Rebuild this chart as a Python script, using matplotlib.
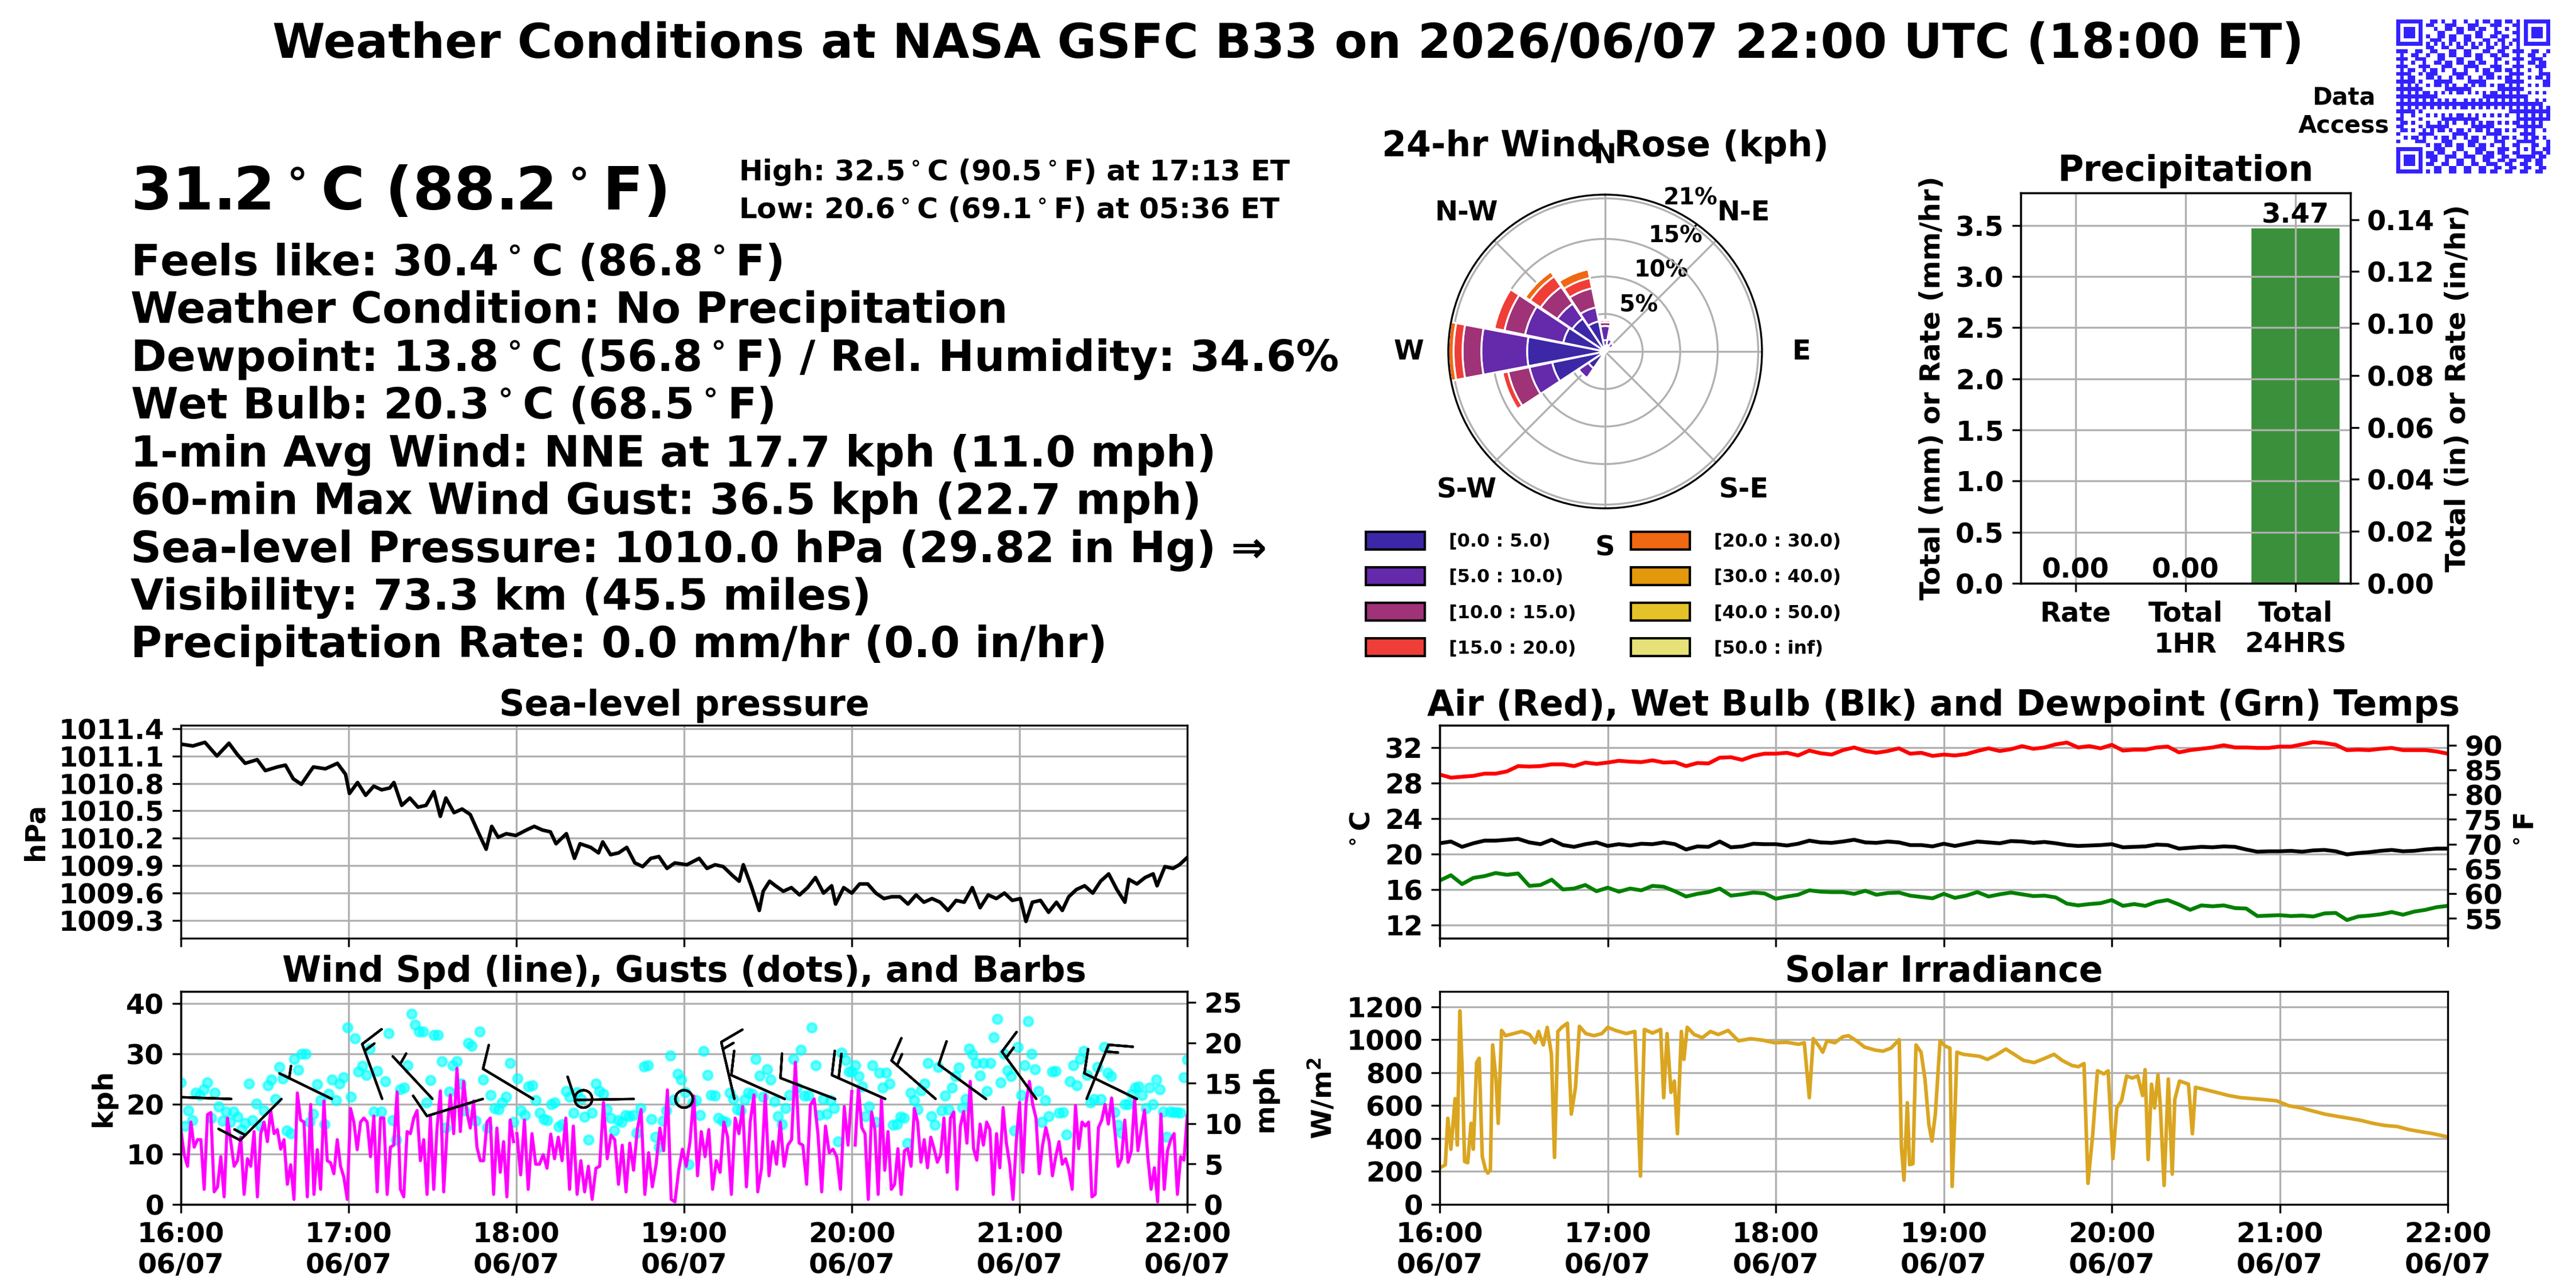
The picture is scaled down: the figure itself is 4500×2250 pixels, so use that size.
import numpy as np
import pandas as pd
import matplotlib
matplotlib.use("Agg")
import matplotlib.pyplot as plt
import matplotlib.dates as mdates
from matplotlib.colors import ListedColormap
from matplotlib.patches import Patch

plt.rcParams['font.family'] = ['DejaVu Sans']
plt.rcParams['font.weight'] = 'bold'
plt.rcParams['axes.titleweight'] = 'bold'
plt.rcParams['axes.labelweight'] = 'bold'
plt.rcParams['font.size'] = 11.5

# ---------------- data ----------------
start = pd.Timestamp("2026-06-07 16:00")
end = pd.Timestamp("2026-06-07 22:00")

title = "Weather Conditions at NASA GSFC B33 on 2026/06/07 22:00 UTC (18:00 ET)"
now_temp = "31.2$^\\circ$C (88.2$^\\circ$F)"
high_txt = "High: 32.5$^\\circ$C (90.5$^\\circ$F) at 17:13 ET"
low_txt = "Low: 20.6$^\\circ$C (69.1$^\\circ$F) at 05:36 ET"
info_lines = [
    "Feels like: 30.4$^\\circ$C (86.8$^\\circ$F)",
    "Weather Condition: No Precipitation",
    "Dewpoint: 13.8$^\\circ$C (56.8$^\\circ$F) / Rel. Humidity: 34.6%",
    "Wet Bulb: 20.3$^\\circ$C (68.5$^\\circ$F)",
    "1-min Avg Wind: NNE at 17.7 kph (11.0 mph)",
    "60-min Max Wind Gust: 36.5 kph (22.7 mph)",
    "Sea-level Pressure: 1010.0 hPa (29.82 in Hg) \u21d2",
    "Visibility: 73.3 km (45.5 miles)",
    "Precipitation Rate: 0.0 mm/hr (0.0 in/hr)",
]

# sea-level pressure, minutes after 16:00 and hPa
pres_min = [0, 4.3, 8.6, 12.9, 17.2, 20.1, 23.0, 27.3, 30.2, 34.5,
            37.4, 40.2, 43.1, 46.0, 47.4, 51.7, 56.0, 58.9, 60.3, 63.2,
            66.1, 69.0, 71.8, 74.7, 76.2, 79.0, 81.9, 84.8, 87.7, 90.5,
            92.8, 94.8, 97.7, 100.6, 103.5, 106.3, 109.2, 111.2, 113.5, 116.4,
            119.8, 123.6, 126.4, 129.3, 132.2, 134.2, 137.9, 140.8, 142.8, 146.6,
            149.4, 150.9, 153.7, 156.6, 159.5, 162.4, 165.2, 168.1, 171.0, 173.9,
            176.7, 181.0, 185.4, 188.2, 191.1, 194.0, 197.4, 199.7, 201.2, 204.0,
            206.9, 208.3, 210.6, 212.7, 215.5, 218.4, 221.3, 224.2, 227.0, 229.9,
            232.8, 234.2, 237.1, 240.0, 242.8, 245.7, 248.6, 251.5, 254.3, 257.2,
            260.1, 263.0, 265.8, 268.7, 271.6, 274.4, 277.3, 280.2, 283.1, 285.9,
            288.8, 291.7, 294.6, 297.4, 300.3, 302.3, 304.6, 307.5, 310.4, 313.2,
            315.3, 317.6, 320.4, 323.3, 326.2, 329.0, 331.9, 334.8, 337.7, 339.1,
            342.0, 344.9, 347.8, 349.2, 352.0, 354.9, 357.2, 360.0]
pres_hpa = [1011.23, 1011.21, 1011.25, 1011.10, 1011.24, 1011.12, 1011.02, 1011.06, 1010.94, 1010.98,
            1011.00, 1010.85, 1010.79, 1010.92, 1010.98, 1010.96, 1011.02, 1010.90, 1010.69, 1010.81,
            1010.67, 1010.77, 1010.73, 1010.75, 1010.81, 1010.56, 1010.64, 1010.54, 1010.56, 1010.71,
            1010.44, 1010.64, 1010.48, 1010.52, 1010.46, 1010.27, 1010.08, 1010.33, 1010.21, 1010.25,
            1010.23, 1010.29, 1010.33, 1010.29, 1010.27, 1010.14, 1010.25, 1009.98, 1010.14, 1010.10,
            1010.04, 1010.16, 1010.02, 1010.04, 1010.10, 1009.93, 1009.89, 1009.98, 1010.00, 1009.87,
            1009.93, 1009.91, 1009.98, 1009.87, 1009.91, 1009.89, 1009.79, 1009.73, 1009.91, 1009.68,
            1009.41, 1009.62, 1009.73, 1009.68, 1009.62, 1009.66, 1009.58, 1009.66, 1009.77, 1009.60,
            1009.68, 1009.48, 1009.66, 1009.60, 1009.70, 1009.70, 1009.60, 1009.54, 1009.56, 1009.56,
            1009.48, 1009.58, 1009.50, 1009.54, 1009.50, 1009.41, 1009.52, 1009.50, 1009.66, 1009.44,
            1009.58, 1009.54, 1009.60, 1009.52, 1009.54, 1009.29, 1009.50, 1009.52, 1009.39, 1009.50,
            1009.41, 1009.56, 1009.64, 1009.68, 1009.60, 1009.73, 1009.81, 1009.64, 1009.50, 1009.75,
            1009.70, 1009.77, 1009.81, 1009.68, 1009.89, 1009.87, 1009.91, 1009.99]

# temperatures every 4 minutes (deg C)
air_c = [28.95, 28.6, 28.7, 28.8, 29.05, 29.05, 29.3, 29.9, 29.85, 29.9,
         30.1, 30.1, 29.9, 30.3, 30.15, 30.3, 30.5, 30.4, 30.35, 30.55,
         30.3, 30.35, 29.9, 30.25, 30.2, 30.85, 30.9, 30.6, 31.05, 31.3,
         31.3, 31.4, 31.1, 31.65, 31.35, 31.2, 31.7, 32.0, 31.6, 31.4,
         31.6, 31.9, 31.3, 31.4, 31.05, 31.2, 31.1, 31.25, 31.6, 31.9,
         31.6, 31.8, 32.15, 31.85, 32.0, 32.35, 32.55, 32.0, 32.15, 31.9,
         32.3, 31.65, 31.75, 31.75, 32.0, 32.1, 31.45, 31.7, 31.85, 32.0,
         32.25, 32.0, 32.0, 31.95, 31.95, 32.1, 32.1, 32.35, 32.6, 32.5,
         32.3, 31.7, 31.75, 31.7, 31.85, 31.95, 31.7, 31.7, 31.7, 31.55, 31.3]
wetbulb_c = [21.2, 21.4, 20.8, 21.2, 21.5, 21.5, 21.6, 21.7, 21.3, 21.1,
             21.6, 21.0, 20.8, 21.1, 21.3, 20.9, 21.1, 20.95, 21.15, 21.1,
             21.3, 21.1, 20.5, 20.85, 20.8, 21.4, 20.75, 20.85, 21.15, 21.1,
             21.1, 20.95, 21.15, 21.5, 21.3, 21.25, 21.4, 21.6, 21.3, 21.25,
             21.4, 21.3, 21.0, 21.0, 20.85, 21.15, 20.9, 21.15, 21.4, 21.3,
             21.2, 21.45, 21.4, 21.25, 21.35, 21.2, 21.0, 20.9, 20.95, 21.0,
             21.1, 20.75, 20.8, 20.85, 21.05, 21.0, 20.6, 20.7, 20.8, 20.75,
             20.85, 20.8, 20.5, 20.25, 20.3, 20.3, 20.35, 20.25, 20.4, 20.45,
             20.3, 19.95, 20.1, 20.2, 20.35, 20.45, 20.3, 20.35, 20.5, 20.6, 20.6]
dewpoint_c = [17.0, 17.6, 16.6, 17.3, 17.5, 17.85, 17.65, 17.8, 16.4, 16.5,
              17.1, 16.0, 16.1, 16.5, 15.8, 16.2, 15.75, 16.1, 15.9, 16.4,
              16.3, 15.8, 15.2, 15.5, 15.7, 16.1, 15.3, 15.45, 15.65, 15.55,
              14.95, 15.2, 15.4, 15.9, 15.75, 15.7, 15.7, 15.5, 15.85, 15.4,
              15.6, 15.65, 15.3, 15.15, 15.0, 15.5, 15.05, 15.3, 15.7, 15.2,
              15.45, 15.65, 15.45, 15.25, 15.3, 15.1, 14.4, 14.2, 14.35, 14.45,
              14.8, 14.15, 14.35, 14.15, 14.6, 14.8, 14.3, 13.7, 14.2, 14.1,
              14.2, 13.9, 13.85, 13.0, 13.05, 13.1, 13.0, 13.05, 12.95, 13.3,
              13.35, 12.55, 12.95, 13.05, 13.2, 13.45, 13.15, 13.5, 13.7, 14.0, 14.15]

# solar irradiance, minutes after 16:00 and W/m2
solar_min = [0, 2.0, 2.9, 4.0, 5.5, 6.3, 7.2, 8.0, 8.9, 10.0,
             11.2, 12.0, 13.2, 14.1, 15.2, 16.4, 17.2, 18.1, 18.9, 20.1,
             20.9, 22.1, 23.5, 26.4, 29.3, 32.1, 34.1, 35.3, 37.0, 38.4,
             39.9, 41.0, 42.2, 43.6, 45.6, 47.0, 48.5, 49.9, 52.2, 55.1,
             57.9, 60.0, 62.8, 66.6, 69.7, 71.7, 73.1, 76.0, 78.9, 80.0,
             81.2, 82.6, 83.8, 84.9, 86.3, 87.2, 88.4, 90.9, 93.8, 96.7,
             99.5, 103.0, 106.7, 111.0, 115.3, 119.6, 123.9, 128.2, 130.2, 132.0,
             133.4, 135.4, 136.8, 138.3, 141.1, 144.0, 146.0, 148.9, 151.7, 155.5,
             158.3, 161.2, 164.1, 164.9, 165.8, 167.0, 167.8, 169.0, 170.1, 171.9,
             173.3, 174.7, 175.8, 177.0, 178.7, 180.4, 182.2, 183.0, 183.9, 184.7,
             187.0, 189.9, 192.8, 195.6, 198.5, 202.2, 205.7, 208.5, 212.3, 215.7,
             219.4, 222.3, 225.8, 228.1, 230.1, 231.5, 233.2, 234.9, 237.2, 238.7,
             240.4, 241.8, 243.5, 245.3, 247.3, 249.3, 251.0, 251.9, 253.0, 254.2,
             255.3, 256.5, 257.3, 258.7, 260.2, 261.6, 262.5, 264.2, 267.4, 268.8,
             269.9, 273.1, 277.4, 281.7, 286.0, 290.3, 294.6, 298.9, 303.2, 307.5,
             311.8, 316.1, 320.4, 324.7, 329.0, 333.3, 337.6, 341.9, 346.2, 350.5,
             354.8, 360.0]
solar_wm2 = [222, 240, 523, 335, 642, 360, 1175, 836, 260, 253,
             492, 335, 861, 887, 291, 209, 190, 209, 968, 761,
             492, 1056, 1024, 1037, 1050, 1031, 981, 1050, 968, 1075,
             911, 285, 1050, 1075, 1100, 548, 711, 1081, 1037, 1024,
             1037, 1075, 1056, 1037, 1050, 172, 1062, 1040, 1062, 648,
             1037, 680, 749, 429, 1050, 880, 1075, 1031, 1012, 1050,
             1031, 1056, 993, 1006, 997, 981, 984, 972, 981, 648,
             1006, 962, 924, 993, 981, 1018, 1024, 993, 955, 937,
             930, 949, 1000, 347, 147, 617, 241, 247, 968, 924,
             761, 485, 385, 548, 993, 962, 949, 109, 510, 924,
             911, 905, 899, 880, 905, 943, 905, 874, 861, 884,
             911, 874, 843, 836, 855, 128, 423, 811, 792, 811,
             278, 586, 629, 780, 767, 780, 661, 818, 272, 730,
             586, 786, 611, 115, 761, 184, 636, 749, 730, 429,
             711, 698, 680, 661, 648, 642, 636, 629, 599, 586,
             567, 548, 535, 523, 510, 492, 479, 473, 454, 441,
             429, 410]

# 1-min wind speed (kph), three stretches: 16:00-17:59, 18:00-20:00, 20:01-22:00
wind_a = [14.9, 9.9, 7.6, 16.4, 11.4, 12.9, 12.9, 3.0, 17.9, 18.3, 2.5, 3.5, 9.5, 1.5, 17.2, 12.5,
          7.6, 8.7, 13.4, 2.0, 9.1, 7.6, 14.5, 1.5, 14.1, 16.4, 12.5, 18.7, 14.1, 14.9, 11.0, 12.9,
          4.0, 7.9, 1.0, 22.2, 16.8, 16.4, 1.5, 19.9, 2.0, 10.9, 3.0, 20.6, 8.7, 8.3, 6.1, 12.9,
          7.6, 5.4, 1.0, 19.1, 16.4, 10.9, 16.4, 17.2, 16.4, 9.5, 17.6, 2.5, 17.2, 17.2, 2.0, 11.4,
          11.8, 22.4, 3.0, 1.5, 14.5, 14.1, 17.2, 18.7, 8.7, 12.9, 2.0, 17.6, 3.0, 15.2, 22.6, 2.5,
          14.5, 21.8, 14.1, 27.1, 14.5, 24.5, 18.3, 15.2, 20.6, 11.4, 8.7, 8.7, 16.4, 17.2, 2.0, 15.2,
          6.4, 12.5, 1.5, 16.8, 12.5]
wind_b = [14.1, 5.9, 16.8, 3.0, 14.1, 8.0, 8.0, 9.9, 7.2, 14.0, 9.1, 13.4, 8.7, 17.2, 3.0, 15.6,
          2.0, 8.7, 2.5, 7.6, 1.0, 7.2, 7.6, 20.3, 9.1, 13.8, 12.9, 4.0, 11.8, 2.5, 12.2, 6.8,
          14.9, 18.9, 2.0, 10.3, 3.5, 8.0, 15.2, 10.7, 22.8, 1.0, 0.5, 6.8, 11.0, 7.6, 12.5, 21.6,
          5.7, 14.5, 9.5, 14.9, 3.0, 8.7, 6.4, 16.4, 13.4, 2.0, 17.2, 14.1, 19.5, 3.5, 16.4, 21.8,
          2.5, 7.2, 21.8, 5.7, 12.5, 8.0, 16.4, 7.6, 11.8, 12.9, 28.3, 12.2, 11.8, 4.0, 19.8, 21.0,
          14.1, 2.5, 15.6, 10.3, 11.0, 9.5, 3.0, 19.5, 11.8, 22.5]
wind_c = [11.8, 23.3, 15.3, 14.1, 1.0, 18.4, 14.9, 2.0, 21.0, 6.8, 14.5, 3.0, 4.0, 11.1, 2.0, 10.7,
          11.1, 7.6, 19.1, 16.4, 8.4, 12.9, 7.3, 13.4, 11.1, 8.4, 9.9, 17.2, 6.4, 17.2, 18.4, 3.0,
          15.6, 18.5, 12.2, 24.5, 11.1, 8.8, 16.0, 11.8, 16.4, 14.9, 2.0, 14.1, 7.3, 19.3, 12.2, 8.0,
          1.0, 12.5, 20.3, 6.4, 20.3, 24.5, 19.9, 17.2, 6.1, 11.8, 15.3, 12.5, 5.7, 9.5, 12.5, 8.0,
          9.1, 6.8, 3.0, 19.7, 11.1, 16.4, 15.6, 16.4, 1.5, 2.0, 15.3, 16.8, 19.9, 16.0, 21.2, 14.5,
          7.6, 9.1, 16.8, 8.4, 10.7, 21.0, 10.7, 14.9, 18.8, 9.5, 3.0, 7.3, 0.5, 18.0, 3.0, 10.7,
          12.9, 14.1, 2.0, 9.5, 8.8, 17.7]

# gusts (kph), same three stretches
gust_a = [24.3, 15.6, 18.7, 16.8, 22.2, 21.8, 22.9, 24.3, 17.2, 22.2, 19.5, 16.6, 18.5, 16.4, 18.5,
          17.4, 14.9, 16.2, 24.1, 16.8, 20.1, 15.6, 18.7, 23.7, 24.9, 21.0, 27.4, 25.1, 14.7, 14.1,
          28.9, 26.8, 30.0, 30.0, 16.4, 18.0, 23.9, 20.7, 16.0, 22.0, 24.9, 20.7, 24.1, 25.3, 35.2,
          21.4, 33.1, 26.4, 27.6, 25.8, 31.0, 18.5, 26.6, 18.5, 24.5, 34.1, 16.8, 12.9, 22.9, 23.3,
          27.7, 37.9, 35.8, 34.4, 34.4, 20.3, 24.7, 33.7, 33.7, 28.5, 15.3, 22.4, 27.7, 28.5, 24.1,
          18.7, 32.1, 31.6, 16.6, 34.4, 24.9, 15.3, 21.8, 19.1, 18.9, 20.3, 21.4, 28.1, 16.4]
gust_b = [25.1, 18.7, 17.8, 23.5, 23.7, 20.7, 18.2, 17.0, 16.8, 19.9, 20.3, 15.5, 16.0, 22.6, 21.4,
          18.2, 22.3, 21.0, 17.4, 12.9, 18.2, 24.1, 22.6, 22.0, 18.9, 17.2, 14.7, 16.8, 16.4, 17.8,
          17.6, 17.8, 14.3, 19.1, 27.5, 27.7, 17.0, 13.4, 11.4, 16.6, 18.7, 29.6, 20.9, 26.0, 24.9,
          22.3, 8.0, 20.3, 20.7, 17.8, 30.6, 25.8, 21.8, 21.6, 17.2, 16.6, 16.4, 22.2, 21.0, 18.9,
          18.7, 20.9, 22.2, 22.0, 29.0, 25.6, 21.4, 26.9, 24.9, 20.5, 17.6, 16.0, 19.1, 21.8, 29.0,
          23.3, 30.8, 21.6, 21.6, 35.2, 27.7, 17.8, 21.0, 18.0, 20.7, 19.1, 12.5, 30.2, 28.7, 26.4]
gust_c = [26.4, 27.7, 25.5, 23.5, 17.6, 19.5, 27.7, 16.4, 26.2, 23.3, 26.2, 24.1, 15.9, 16.0, 17.4,
          17.2, 12.2, 22.2, 20.7, 18.9, 22.7, 24.1, 28.1, 17.6, 15.9, 27.4, 18.7, 21.6, 18.9, 23.3,
          25.5, 27.2, 19.3, 21.0, 31.0, 29.9, 28.1, 25.6, 28.1, 22.6, 28.1, 33.3, 36.9, 24.3, 30.0,
          26.7, 25.5, 14.7, 31.4, 21.8, 27.7, 36.5, 30.0, 26.9, 22.6, 16.4, 20.7, 17.6, 26.4, 26.6,
          18.2, 18.4, 13.9, 24.5, 27.7, 23.7, 29.0, 30.6, 25.8, 20.3, 21.0, 27.4, 21.0, 31.4, 26.2,
          25.5, 18.4, 15.9, 14.3, 19.9, 19.9, 22.0, 23.3, 23.5, 21.8, 19.1, 23.3, 19.9, 24.9, 22.9,
          18.5, 13.4, 18.5, 18.4, 18.4, 18.2, 25.3, 28.8]

# wind barbs every 18 minutes: direction (deg, from) and speed
barb_min = [18, 36, 54, 72, 90, 108, 126, 144, 162, 180, 198, 216, 234, 252, 270, 288, 306, 324, 342]
barb_dir = [272, 225, 296, 340, 317, 253, 301, 0, 269, 0, 347, 294, 291, 294, 311, 306, 324, 22, 296]
barb_spd = [10, 15, 5, 15, 5, 10, 10, 0, 10, 0, 15, 10, 10, 20, 15, 10, 15, 15, 10]
barb_level = 21.0

# 24-hr wind rose: % of time per sector and speed bin
rose_dirs = [0, 22.5, 45, 67.5, 90, 112.5, 135, 157.5, 180, 202.5, 225, 247.5, 270, 292.5, 315, 337.5]
rose_bins = ["[0.0 : 5.0)", "[5.0 : 10.0)", "[10.0 : 15.0)", "[15.0 : 20.0)",
             "[20.0 : 30.0)", "[30.0 : 40.0)", "[40.0 : 50.0)", "[50.0 : inf)"]
rose_colors = ["#3c27a7", "#6529ab", "#a03278", "#ef3e37", "#f06812", "#e3990b", "#e5c228", "#e7e277"]
rose_pct = [
    [1.5, 1.9, 0.5, 0.3, 0, 0, 0, 0],
    [0.9, 0.8, 0, 0, 0, 0, 0, 0],
    [0.7, 0.7, 0, 0, 0, 0, 0, 0],
    [0.2, 0.1, 0, 0, 0, 0, 0, 0],
    [0.2, 0, 0, 0, 0, 0, 0, 0],
    [0.1, 0, 0, 0, 0, 0, 0, 0],
    [0.1, 0, 0, 0, 0, 0, 0, 0],
    [0.1, 0, 0, 0, 0, 0, 0, 0],
    [0.2, 0, 0, 0, 0, 0, 0, 0],
    [0.4, 0.3, 0, 0, 0, 0, 0, 0],
    [2.7, 1.6, 0, 0, 0, 0, 0, 0],
    [7.2, 3.1, 2.9, 0.8, 0, 0, 0, 0],
    [10.4, 6.1, 2.5, 1.2, 0.7, 0, 0, 0],
    [5.7, 5.2, 2.8, 1.4, 0, 0, 0, 0],
    [5.3, 2.4, 2.7, 1.7, 0.8, 0, 0, 0],
    [4.1, 1.9, 2.6, 1.4, 1.2, 0, 0, 0],
]
rose_rticks = [5, 10, 15, 20.4]
rose_rlabels = ["5%", "10%", "15%", "21%"]
rose_rmax = 20.9
rose_compass = ["N", "N-E", "E", "S-E", "S", "S-W", "W", "N-W"]

# precipitation
precip_labels = ["Rate", "Total\n1HR", "Total\n24HRS"]
precip_mm = [0.0, 0.0, 3.47]


def at(minutes):
    return start + pd.to_timedelta(np.asarray(minutes, dtype=float), unit="min")


def spread(vals, m0, m1):
    return at(np.linspace(m0, m1, len(vals)))


def c2f(c):
    return c * 9.0 / 5.0 + 32.0


def date_axis(ax, labels=True):
    ax.set_xlim(start, end)
    ax.xaxis.set_major_locator(mdates.HourLocator())
    ax.xaxis.set_major_formatter(mdates.DateFormatter("%H:%M\n%m/%d"))
    ax.tick_params(axis="x", labelbottom=labels)
    ax.grid(True)


W, H = 4500.0, 2250.0


def box(l, t, r, b):
    return [l / W, 1 - b / H, (r - l) / W, (b - t) / H]


fig = plt.figure(figsize=(15, 7.5), dpi=300)

# ---------------- header text ----------------
fig.text(0.5, 1 - 78 / H, title, ha="center", va="center", fontsize=20)
fig.text(228 / W, 1 - 366 / H, now_temp, fontsize=25, va="baseline")
fig.text(1290 / W, 1 - 315 / H, high_txt, fontsize=12, va="baseline")
fig.text(1290 / W, 1 - 381 / H, low_txt, fontsize=12, va="baseline")
for i, line in enumerate(info_lines):
    fig.text(228 / W, 1 - (481 + 83.4 * i) / H, line, fontsize=18, va="baseline")

# ---------------- QR code block ----------------
n = 41
r, c = np.indices((n, n))
qr = (((r * 92821 + c * 68917 + r * c * 31) % 1009) % 2).astype(int)
for r0, c0 in [(0, 0), (0, n - 7), (n - 7, 0)]:
    rs, cs = max(r0 - 1, 0), max(c0 - 1, 0)
    qr[rs:r0 + 8, cs:c0 + 8] = 0
    qr[r0:r0 + 7, c0:c0 + 7] = 1
    qr[r0 + 1:r0 + 6, c0 + 1:c0 + 6] = 0
    qr[r0 + 2:r0 + 5, c0 + 2:c0 + 5] = 1
qr[6, 8:n - 8] = (np.arange(8, n - 8) + 1) % 2
qr[8:n - 8, 6] = (np.arange(8, n - 8) + 1) % 2
qr[32:37, 32:37] = 1
qr[33:36, 33:36] = 0
qr[34, 34] = 1
ax_qr = fig.add_axes(box(4186, 34, 4455, 303))
ax_qr.imshow(qr, cmap=ListedColormap(["white", "#3322ff"]), interpolation="nearest")
ax_qr.axis("off")
fig.text(4094 / W, 1 - 195 / H, "Data\nAccess", ha="center", va="center",
         multialignment="center", fontsize=10)

# ---------------- wind rose ----------------
ax_r = fig.add_axes(box(2530, 340, 3078, 888), projection="polar")
ax_r.set_theta_zero_location("N")
ax_r.set_theta_direction(-1)
theta = np.deg2rad(rose_dirs)
table = np.array(rose_pct)
offset = np.zeros(len(rose_dirs))
for k in range(len(rose_bins)):
    ax_r.bar(theta, table[:, k], width=np.deg2rad(22.5) * 0.96, bottom=offset,
             color=rose_colors[k], edgecolor="white", linewidth=0.8, zorder=2)
    offset = offset + table[:, k]
ax_r.set_xticks(np.deg2rad(np.arange(0, 360, 45)))
ax_r.set_xticklabels(rose_compass, fontsize=11.5)
ax_r.tick_params(axis="x", pad=6)
ax_r.set_rgrids(rose_rticks, rose_rlabels, angle=22.5, fontsize=9.5)
ax_r.set_ylim(0, rose_rmax)
ax_r.set_title("24-hr Wind Rose (kph)", fontsize=14.8, y=1.0, pad=16)
handles = [Patch(facecolor=col, edgecolor="black", linewidth=1.0) for col in rose_colors]
fig.legend(handles, rose_bins, ncol=2, loc="upper center", bbox_to_anchor=(2801 / W, 1 - 900 / H),
           frameon=False, fontsize=7.7, handlelength=3.2, handleheight=1.1,
           labelspacing=0.9, columnspacing=3.0, handletextpad=1.3)

# ---------------- precipitation ----------------
ax_pr = fig.add_axes(box(3530, 337, 4106, 1019))
bars = ax_pr.bar(range(len(precip_mm)), precip_mm, width=0.8, color="#3b913b")
ymax = max(precip_mm) * 1.1
ax_pr.set_xlim(-0.5, len(precip_mm) - 0.5)
ax_pr.set_ylim(0, ymax)
ax_pr.set_yticks(np.arange(0, ymax, 0.5))
ax_pr.yaxis.set_major_formatter(matplotlib.ticker.FormatStrFormatter("%.1f"))
ax_pr.set_xticks(range(len(precip_mm)))
ax_pr.set_xticklabels(precip_labels)
ax_pr.grid(True)
ax_pr.bar_label(bars, fmt="%.2f")
ax_pr.set_ylabel("Total (mm) or Rate (mm/hr)")
ax_pr.set_title("Precipitation", fontsize=14.8, pad=5)
ax_pr2 = ax_pr.twinx()
ax_pr2.set_ylim(0, ymax / 25.4)
ax_pr2.set_yticks(np.arange(0, ymax / 25.4, 0.02))
ax_pr2.yaxis.set_major_formatter(matplotlib.ticker.FormatStrFormatter("%.2f"))
ax_pr2.set_ylabel("Total (in) or Rate (in/hr)")

# ---------------- sea-level pressure ----------------
ax_p = fig.add_axes(box(316, 1267, 2074, 1639))
ax_p.plot(at(pres_min), pres_hpa, color="black", lw=1.5)
date_axis(ax_p, labels=False)
ax_p.set_ylim(1009.106, 1011.436)
ax_p.set_yticks(np.round(np.arange(1009.3, 1011.45, 0.3), 1))
ax_p.yaxis.set_major_formatter(matplotlib.ticker.FormatStrFormatter("%.1f"))
ax_p.set_ylabel("hPa")
ax_p.set_title("Sea-level pressure", fontsize=14.8, pad=4)

# ---------------- wind ----------------
ax_w = fig.add_axes(box(316, 1732, 2074, 2104))
ax_w.plot(spread(wind_a, 0, 119), wind_a, color="magenta", lw=1.3, zorder=3)
ax_w.plot(spread(wind_b, 120.2, 240), wind_b, color="magenta", lw=1.3, zorder=3)
ax_w.plot(spread(wind_c, 241.2, 360), wind_c, color="magenta", lw=1.3, zorder=3)
for g, m0, m1 in [(gust_a, 0, 119), (gust_b, 120.4, 239), (gust_c, 240, 360)]:
    ax_w.plot(spread(g, m0, m1), g, "o", color="cyan", ms=3.8, mew=1.0, alpha=0.6, zorder=2.5)
bd = np.deg2rad(barb_dir)
bu = -np.array(barb_spd) * np.sin(bd)
bv = -np.array(barb_spd) * np.cos(bd)
ax_w.barbs(mdates.date2num(at(barb_min)), np.full(len(barb_min), barb_level), bu, bv,
           color="black", linewidth=1.0, zorder=4)
date_axis(ax_w)
wmax = 42.4
ax_w.set_ylim(0, wmax)
ax_w.set_yticks([0, 10, 20, 30, 40])
ax_w.set_ylabel("kph")
ax_w.set_title("Wind Spd (line), Gusts (dots), and Barbs", fontsize=14.8, pad=4)
ax_w2 = ax_w.twinx()
ax_w2.set_ylim(0, wmax / 1.609344)
ax_w2.set_yticks([0, 5, 10, 15, 20, 25])
ax_w2.set_ylabel("mph")

# ---------------- temperatures ----------------
ax_t = fig.add_axes(box(2515, 1267, 4276, 1639))
tt = spread(air_c, 0, 360)
ax_t.plot(tt, air_c, color="red", lw=1.6)
ax_t.plot(tt, wetbulb_c, color="black", lw=1.6)
ax_t.plot(tt, dewpoint_c, color="green", lw=1.6)
date_axis(ax_t, labels=False)
tlo, thi = 10.5, 34.5
ax_t.set_ylim(tlo, thi)
ax_t.set_yticks([12, 16, 20, 24, 28, 32])
ax_t.set_ylabel("$^\\circ$C")
ax_t.set_title("Air (Red), Wet Bulb (Blk) and Dewpoint (Grn) Temps", fontsize=14.8, pad=4)
ax_t2 = ax_t.twinx()
ax_t2.set_ylim(c2f(tlo), c2f(thi))
ax_t2.set_yticks([55, 60, 65, 70, 75, 80, 85, 90])
ax_t2.set_ylabel("$^\\circ$F")

# ---------------- solar ----------------
ax_s = fig.add_axes(box(2515, 1732, 4276, 2104))
ax_s.plot(at(solar_min), solar_wm2, color="goldenrod", lw=1.5)
date_axis(ax_s)
ax_s.set_ylim(0, max(solar_wm2) * 1.1)
ax_s.set_yticks(np.arange(0, 1201, 200))
ax_s.set_ylabel("W/m$^2$")
ax_s.set_title("Solar Irradiance", fontsize=14.8, pad=4)

fig.savefig("out.png", dpi=300)
